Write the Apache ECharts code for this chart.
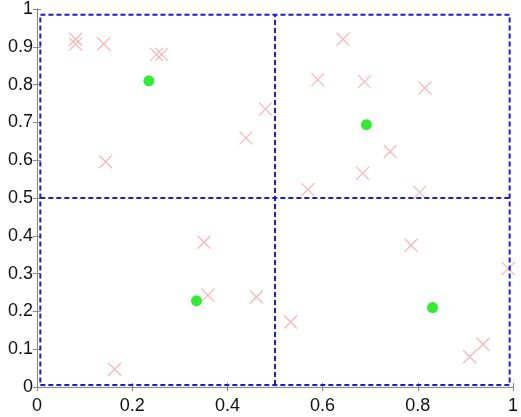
<!DOCTYPE html>
<html>
<head>
<meta charset="utf-8">
<script src="https://cdn.jsdelivr.net/npm/echarts@6/dist/echarts.min.js"></script>
<style>html,body{margin:0;padding:0;background:#fff;}#c{width:521px;height:417px;}</style>
</head>
<body>
<div id="c"></div>
<script>
// Data points (pink crosses)
const crossX = [0.081,0.081,0.140,0.251,0.262,0.439,0.144,0.480,0.643,0.590,0.688,0.815,0.742,0.684,0.569,0.804,0.351,0.359,0.461,0.163,0.533,0.786,0.990,0.937,0.909];
const crossY = [0.920,0.907,0.908,0.880,0.880,0.659,0.596,0.735,0.920,0.813,0.808,0.791,0.623,0.565,0.522,0.515,0.383,0.243,0.238,0.047,0.172,0.375,0.313,0.113,0.080];
// Centers (green dots)
const centerX = [0.235,0.692,0.335,0.831];
const centerY = [0.810,0.694,0.228,0.210];
// Partition boundaries
const boxX = [0.007, 0.993];
const boxY = [0.005, 0.985];
const splitX = 0.5;
const splitY = 0.5;
// Tick settings
const xTicks = [0, 0.2, 0.4, 0.6, 0.8, 1];
const yTicks = [0, 0.1, 0.2, 0.3, 0.4, 0.5, 0.6, 0.7, 0.8, 0.9, 1];

const chart = echarts.init(document.getElementById('c'));
const axisCommon = {
  min: 0, max: 1,
  axisLine: {show: true, lineStyle: {color: '#8a8a8a', width: 1}},
  axisTick: {show: true, inside: true, length: 4, lineStyle: {color: '#8a8a8a'}},
  splitLine: {show: false}
};
const labelStyle = {color: '#111', fontFamily: 'Liberation Sans, Arial, sans-serif', fontSize: 18};
const dashed = {color: '#1c1ccc', width: 2, type: [5, 3]};
const lineSeries = (pts) => ({type: 'line', data: pts, symbol: 'none', lineStyle: dashed, silent: true, animation: false, z: 3});

chart.setOption({
  animation: false,
  grid: {left: 37, right: 4, top: 8, bottom: 30, containLabel: false},
  xAxis: [
    Object.assign({}, axisCommon, {type: 'value', position: 'bottom', interval: 0.2,
      axisLabel: Object.assign({margin: 10, formatter: v => xTicks.includes(+v.toFixed(1)) ? String(+v.toFixed(1)) : ''}, labelStyle)}),
    Object.assign({}, axisCommon, {type: 'value', position: 'top', interval: 0.2, axisLabel: {show: false}})
  ],
  yAxis: [
    Object.assign({}, axisCommon, {type: 'value', position: 'left', interval: 0.1,
      axisLabel: Object.assign({margin: 4, formatter: v => yTicks.includes(+v.toFixed(1)) ? String(+v.toFixed(1)) : ''}, labelStyle)}),
    Object.assign({}, axisCommon, {type: 'value', position: 'right', interval: 0.1, axisLabel: {show: false}})
  ],
  series: [
    {
      type: 'scatter',
      data: crossX.map((x, i) => [x, crossY[i]]),
      symbol: 'path://M0,0L10,10M10,0L0,10',
      symbolSize: 13,
      itemStyle: {color: 'rgba(0,0,0,0)', borderColor: '#f2a2a8', borderWidth: 1.2},
      z: 2
    },
    {
      type: 'scatter',
      data: centerX.map((x, i) => [x, centerY[i]]),
      symbol: 'circle',
      symbolSize: 11,
      itemStyle: {color: '#00e600'},
      z: 4
    },
    lineSeries([[boxX[0], boxY[0]], [boxX[1], boxY[0]], [boxX[1], boxY[1]], [boxX[0], boxY[1]], [boxX[0], boxY[0]]]),
    lineSeries([[splitX, boxY[0]], [splitX, boxY[1]]]),
    lineSeries([[boxX[0], splitY], [boxX[1], splitY]])
  ]
});
</script>
</body>
</html>
